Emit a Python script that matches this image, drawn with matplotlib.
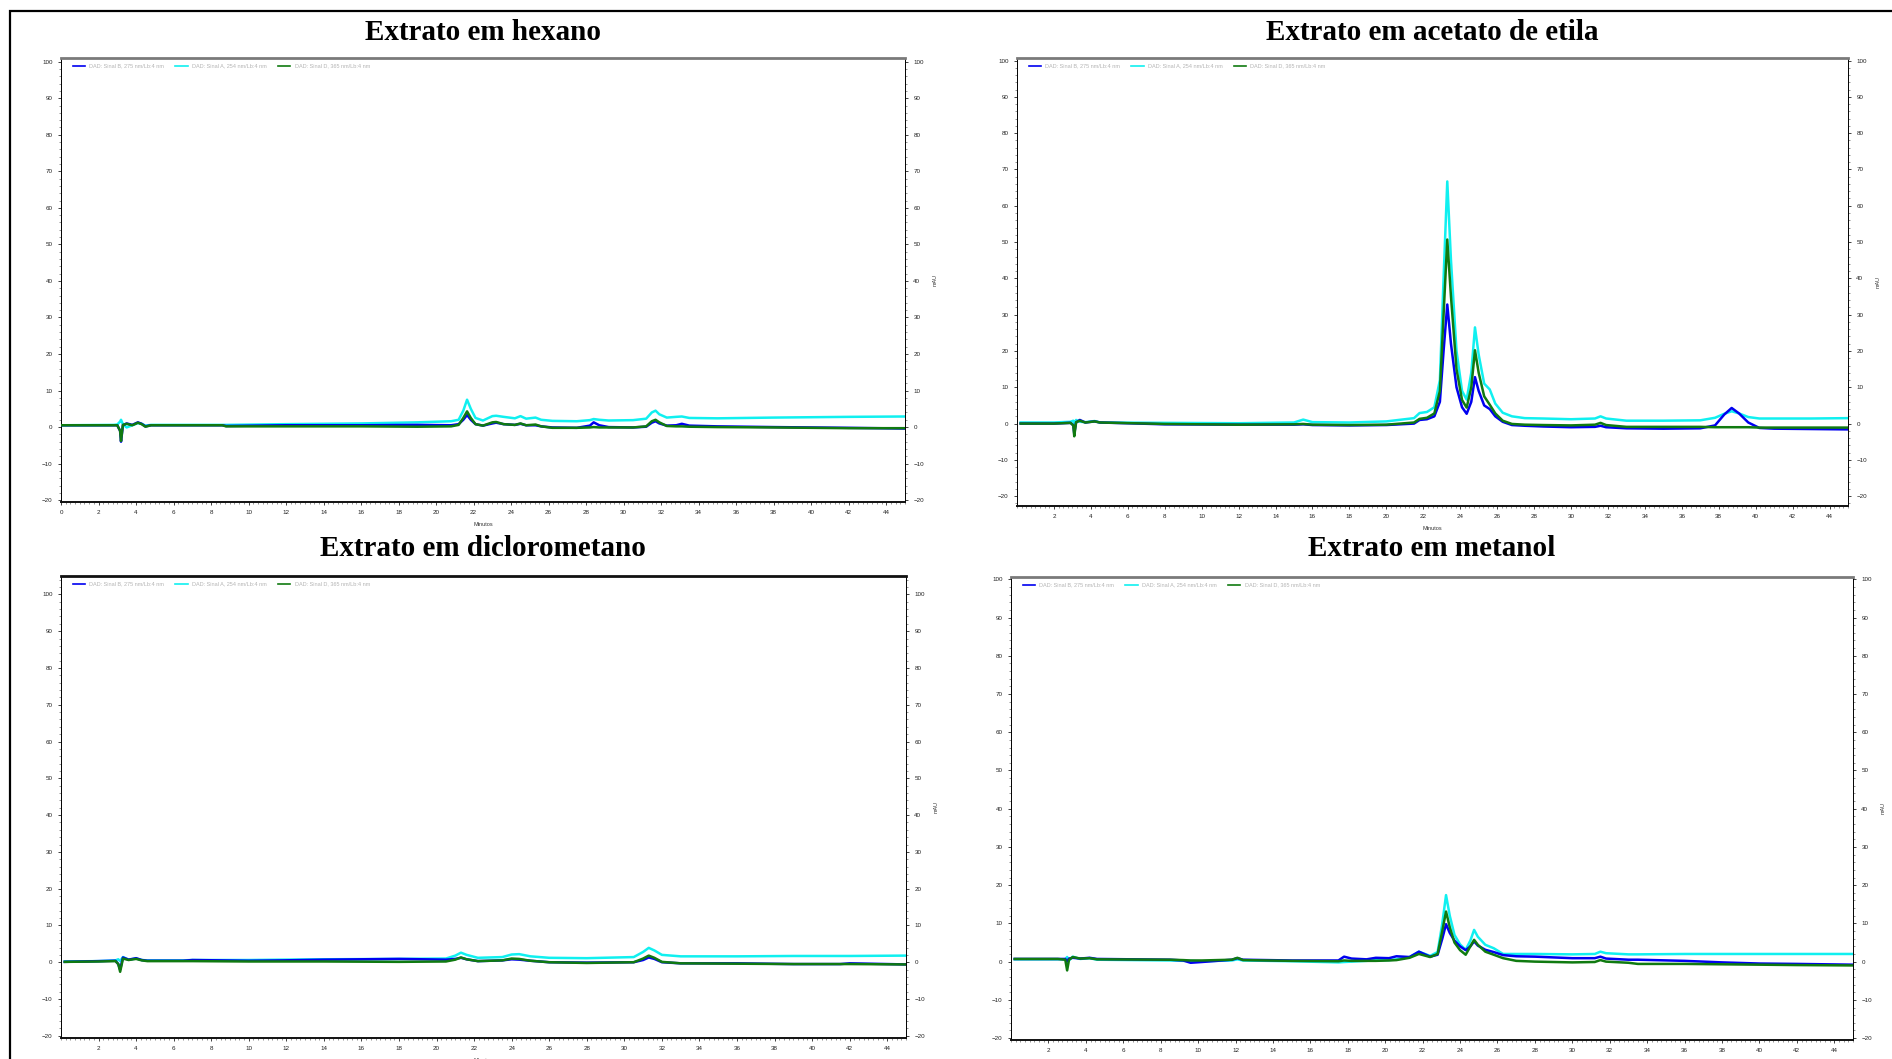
import matplotlib
matplotlib.use("Agg")
import matplotlib.pyplot as plt
from matplotlib.ticker import MultipleLocator, FixedLocator
from matplotlib.patches import Rectangle

# ---------------- data ----------------
titles = ["Extrato em hexano", "Extrato em acetato de etila",
          "Extrato em diclorometano", "Extrato em metanol"]
series_labels = ["DAD: Sinal B, 275 nm/Lb:4 nm",
                 "DAD: Sinal A, 254 nm/Lb:4 nm",
                 "DAD: Sinal D, 365 nm/Lb:4 nm"]
x_label = "Minutos"
y_label = "mAU"
y_ticks = [-20, -10, 0, 10, 20, 30, 40, 50, 60, 70, 80, 90, 100]
x_ticks_first = [0, 2, 4, 6, 8, 10, 12, 14, 16, 18, 20, 22, 24, 26, 28, 30,
                 32, 34, 36, 38, 40, 42, 44]
x_ticks_other = [2, 4, 6, 8, 10, 12, 14, 16, 18, 20, 22, 24, 26, 28, 30,
                 32, 34, 36, 38, 40, 42, 44]

# Extrato em hexano
hex_t = [0, 2.8, 3.0, 3.15, 3.2, 3.3, 3.5, 3.8, 4.1, 4.3, 4.5, 4.8, 8.6, 8.8,
         12, 16, 19, 20.8, 21.2, 21.45, 21.65, 21.85, 22.1, 22.5, 23.0, 23.2,
         23.6, 24.2, 24.5, 24.8, 25.3, 25.6, 26.2, 27.5, 28.2, 28.4, 28.7,
         29.2, 30.5, 31.2, 31.5, 31.7, 31.9, 32.3, 32.8, 33.1, 33.5, 35, 38,
         40, 42, 45]
hex_B = [0.5, 0.5, 0.5, -1.0, -4.0, 0.5, 1.0, 0.6, 1.3, 0.9, 0.2, 0.5, 0.5,
         0.3, 0.5, 0.5, 0.6, 0.5, 0.8, 2.0, 3.3, 2.0, 0.8, 0.4, 1.0, 1.2, 0.8,
         0.6, 0.9, 0.5, 0.5, 0.2, -0.1, -0.2, 0.4, 1.3, 0.5, 0.0, -0.1, 0.1,
         1.2, 1.6, 1.0, 0.4, 0.5, 0.9, 0.4, 0.2, 0.0, -0.1, -0.2, -0.4]
hex_A = [0.5, 0.6, 0.7, 1.5, 2.0, 0.8, -0.1, 0.5, 1.1, 0.9, 0.4, 0.6, 0.6,
         0.6, 0.8, 1.0, 1.3, 1.6, 2.0, 4.5, 7.5, 5.0, 2.5, 1.8, 3.0, 3.1, 2.8,
         2.4, 3.0, 2.3, 2.6, 2.0, 1.7, 1.6, 1.9, 2.2, 2.0, 1.8, 1.9, 2.3, 4.0,
         4.5, 3.5, 2.6, 2.8, 2.9, 2.5, 2.4, 2.6, 2.7, 2.8, 2.9]
hex_D = [0.5, 0.5, 0.5, -1.0, -3.8, 0.6, 0.9, 0.5, 1.2, 0.8, 0.1, 0.5, 0.5,
         0.2, 0.2, 0.2, 0.1, 0.2, 0.6, 2.5, 4.3, 2.5, 0.8, 0.4, 1.3, 1.4, 0.8,
         0.6, 1.0, 0.5, 0.7, 0.2, -0.2, -0.2, -0.1, 0.0, -0.1, -0.1, -0.1,
         0.2, 1.6, 2.0, 1.3, 0.3, 0.2, 0.2, 0.1, 0.0, -0.1, -0.2, -0.3, -0.3]

# Extrato em acetato de etila
ace_t = [0.2, 2.0, 2.9, 3.05, 3.1, 3.2, 3.4, 3.7, 4.2, 4.5, 8, 12, 15.0, 15.5,
         16.0, 18, 20, 21.5, 21.8, 22.2, 22.6, 22.9, 23.1, 23.3, 23.5, 23.8,
         24.1, 24.35, 24.6, 24.8, 25.0, 25.3, 25.6, 25.9, 26.3, 26.8, 27.5,
         28.5, 30, 31.3, 31.6, 31.9, 33, 35, 37, 37.8, 38.3, 38.7, 39.1, 39.6,
         40.2, 41, 43, 45]
ace_B = [0.0, 0.0, 0.2, -0.5, -2.8, 0.3, 1.0, 0.3, 0.6, 0.3, -0.2, -0.3, -0.3,
         -0.2, -0.4, -0.5, -0.4, 0.0, 1.0, 1.2, 2.0, 6.0, 20.0, 32.8, 22.0,
         10.0, 4.5, 2.7, 6.0, 12.8, 9.0, 5.0, 4.0, 2.0, 0.5, -0.4, -0.6, -0.8,
         -1.0, -0.9, -0.6, -1.0, -1.3, -1.4, -1.3, -0.5, 2.5, 4.3, 2.8, 0.3,
         -1.2, -1.4, -1.5, -1.6]
ace_A = [0.3, 0.3, 0.5, 0.8, 0.0, 1.0, 0.5, 0.4, 0.7, 0.3, 0.2, 0.1, 0.3, 1.1,
         0.4, 0.3, 0.6, 1.5, 2.9, 3.2, 4.5, 12.0, 40.0, 66.7, 45.0, 20.0, 9.0,
         6.6, 14.0, 26.5, 19.0, 11.0, 9.4, 5.5, 3.0, 2.0, 1.5, 1.4, 1.2, 1.4,
         2.0, 1.4, 0.8, 0.8, 0.9, 1.6, 2.7, 3.4, 2.8, 1.8, 1.4, 1.4, 1.4, 1.5]
ace_D = [0.0, 0.0, 0.2, -0.5, -3.5, 0.4, 0.8, 0.3, 0.6, 0.3, -0.1, -0.3, -0.2,
         -0.1, -0.3, -0.4, -0.3, 0.3, 1.3, 1.6, 2.8, 9.0, 30.0, 50.7, 35.0,
         15.0, 6.5, 4.4, 10.0, 20.2, 14.0, 7.5, 5.2, 2.8, 0.8, -0.1, -0.3, -0.4,
         -0.5, -0.3, 0.2, -0.4, -0.9, -0.9, -0.9, -1.0, -1.0, -1.0, -1.0, -1.0,
         -1.1, -1.1, -1.1, -1.1]

# Extrato em diclorometano
dcm_t = [0.2, 2.0, 2.9, 3.05, 3.15, 3.3, 3.6, 4.0, 4.3, 4.6, 6.5, 7.0, 10,
         11.8, 14, 18, 20.5, 21.0, 21.3, 21.6, 22.2, 23.5, 24.0, 24.4, 25, 26,
         28, 30.5, 31.0, 31.3, 31.6, 32.0, 33, 36, 39, 41.5, 42, 45]
dcm_B = [0.1, 0.3, 0.4, -0.5, -2.0, 1.3, 0.7, 1.1, 0.6, 0.4, 0.4, 0.6, 0.4,
         0.5, 0.7, 0.9, 0.7, 0.9, 1.2, 0.8, 0.3, 0.5, 0.8, 0.7, 0.4, 0.0, -0.1,
         0.0, 0.6, 1.3, 0.9, 0.0, -0.3, -0.3, -0.5, -0.5, -0.3, -0.6]
dcm_A = [0.2, 0.3, 0.5, 0.8, 0.3, 1.4, 0.7, 1.0, 0.6, 0.5, 0.5, 0.6, 0.6, 0.7,
         0.8, 0.9, 1.0, 1.8, 2.6, 2.0, 1.2, 1.4, 2.1, 2.2, 1.6, 1.2, 1.1, 1.4,
         2.8, 3.9, 3.2, 2.0, 1.6, 1.6, 1.7, 1.7, 1.7, 1.8]
dcm_D = [0.1, 0.2, 0.3, -0.5, -2.6, 1.0, 0.6, 0.9, 0.5, 0.3, 0.3, 0.3, 0.2,
         0.2, 0.2, 0.1, 0.2, 0.7, 1.3, 0.8, 0.3, 0.5, 1.0, 0.9, 0.4, 0.0, -0.2,
         0.0, 1.0, 1.8, 1.2, 0.1, -0.3, -0.4, -0.5, -0.5, -0.5, -0.6]

# Extrato em metanol
met_t = [0.2, 2.5, 2.9, 3.0, 3.1, 3.3, 3.7, 4.2, 4.6, 8.5, 9.2, 9.6, 10.2,
         11.8, 12.1, 12.4, 15, 17.5, 17.8, 18.2, 19.0, 19.5, 20.2, 20.6, 21.3,
         21.8, 22.4, 22.8, 23.05, 23.25, 23.45, 23.7, 24.0, 24.3, 24.55, 24.75,
         24.95, 25.35, 25.8, 26.3, 27, 28, 30, 31.2, 31.5, 31.8, 33, 33.5, 36,
         38, 40, 42, 45]
met_B = [0.7, 0.7, 0.7, 0.0, 0.8, 1.0, 0.8, 1.0, 0.7, 0.5, 0.3, -0.3, -0.1,
         0.5, 0.9, 0.5, 0.3, 0.3, 1.3, 0.8, 0.6, 1.0, 0.9, 1.4, 1.2, 2.6, 1.3,
         1.8, 6.0, 9.8, 7.5, 5.5, 4.0, 3.0, 4.0, 5.3, 4.2, 3.1, 2.5, 1.7, 1.4,
         1.3, 0.9, 0.9, 1.3, 0.8, 0.5, 0.5, 0.2, -0.2, -0.5, -0.6, -0.8]
met_A = [0.6, 0.6, 0.6, 1.2, 0.3, 1.3, 0.7, 0.9, 0.5, 0.3, 0.2, 0.2, 0.1, 0.3,
         0.6, 0.3, 0.1, -0.2, -0.1, 0.0, 0.2, 0.4, 0.4, 0.6, 1.2, 2.6, 1.5,
         2.5, 10.0, 17.4, 12.0, 7.0, 4.5, 3.1, 5.5, 8.3, 6.5, 4.4, 3.5, 2.0,
         2.0, 2.0, 1.9, 2.0, 2.6, 2.2, 1.9, 1.9, 2.0, 2.0, 2.0, 2.0, 2.0]
met_D = [0.7, 0.7, 0.5, -2.3, 0.5, 1.2, 0.8, 0.9, 0.6, 0.5, 0.4, 0.3, 0.3, 0.5,
         1.0, 0.4, 0.2, 0.1, 0.3, 0.2, 0.2, 0.2, 0.3, 0.4, 1.0, 2.0, 1.2, 2.0,
         8.0, 13.1, 9.0, 5.0, 3.0, 1.8, 4.0, 5.7, 4.4, 2.6, 1.8, 0.9, 0.2, 0.0,
         -0.2, -0.1, 0.4, 0.0, -0.3, -0.6, -0.6, -0.7, -0.8, -0.9, -1.0]

# ---------------- style / layout ----------------
W, H = 1892, 1059
fig = plt.figure(figsize=(W / 100, H / 100), dpi=100)
fig.patch.set_facecolor("white")

def px_axes(left, top, right, bottom):
    return [left / W, 1 - bottom / H, (right - left) / W, (bottom - top) / H]

panels = [
    dict(rect=px_axes(61, 58, 905, 502), ylim=(-20.5, 101), t=hex_t,
         B=hex_B, A=hex_A, D=hex_D, xt=x_ticks_first, title_xy=(483, 32),
         topcol="#7a7a7a"),
    dict(rect=px_axes(1017, 58, 1848, 506), ylim=(-22.7, 100.7), t=ace_t,
         B=ace_B, A=ace_A, D=ace_D, xt=x_ticks_other, title_xy=(1432, 32),
         topcol="#7a7a7a"),
    dict(rect=px_axes(61, 576, 906, 1038), ylim=(-20.6, 105), t=dcm_t,
         B=dcm_B, A=dcm_A, D=dcm_D, xt=x_ticks_other, title_xy=(483, 548),
         topcol="#111111"),
    dict(rect=px_axes(1011, 577, 1853, 1040), ylim=(-20.5, 100.6), t=met_t,
         B=met_B, A=met_A, D=met_D, xt=x_ticks_other, title_xy=(1432, 548),
         topcol="#7a7a7a"),
]

col_B = "#0000f0"
col_A = "#10f0f0"
col_D = "#107a10"
tick_font = "Liberation Sans"

for i, p in enumerate(panels):
    ax = fig.add_axes(p["rect"])
    lA, = ax.plot(p["t"], p["A"], color=col_A, lw=1.8, zorder=2)
    lB, = ax.plot(p["t"], p["B"], color=col_B, lw=1.8, zorder=3)
    lD, = ax.plot(p["t"], p["D"], color=col_D, lw=1.8, zorder=4)
    ax.set_xlim(0, 45)
    ax.set_ylim(*p["ylim"])
    ax.xaxis.set_major_locator(FixedLocator(p["xt"]))
    ax.xaxis.set_minor_locator(MultipleLocator(0.25))
    ax.yaxis.set_major_locator(FixedLocator(y_ticks))
    ax.yaxis.set_minor_locator(MultipleLocator(2))
    ax.tick_params(axis="both", which="major", direction="out", length=2,
                   width=0.6, labelsize=4.5, pad=4, colors="#222222")
    ax.tick_params(axis="both", which="minor", direction="out", length=1.2,
                   width=0.4, colors="#444444")
    ax.tick_params(axis="y", left=True, right=True, labelleft=True,
                   labelright=True, which="both")
    for lab in ax.get_xticklabels() + ax.get_yticklabels():
        lab.set_fontfamily(tick_font)
    ax.spines["top"].set_color(p["topcol"])
    ax.spines["top"].set_linewidth(2.0)
    ax.spines["bottom"].set_color("#111111")
    ax.spines["bottom"].set_linewidth(1.4)
    ax.spines["left"].set_linewidth(0.7)
    ax.spines["right"].set_linewidth(0.7)
    ax.set_xlabel(x_label, fontsize=4, family=tick_font, labelpad=5,
                  color="#333333")
    ax.yaxis.set_label_position("right")
    ax.set_ylabel(y_label, fontsize=4, family=tick_font, labelpad=6,
                  color="#333333")
    leg = ax.legend([lB, lA, lD], series_labels, loc="upper left",
                    bbox_to_anchor=(0.01, 0.995), ncol=3, frameon=False,
                    handlelength=2.2, handletextpad=0.8,
                    columnspacing=2.0, borderaxespad=0.2,
                    prop={"family": tick_font, "size": 4})
    for txt in leg.get_texts():
        txt.set_color("#b4b4b4")
    for h in leg.legend_handles:
        h.set_linewidth(1.2)
    tx, ty = p["title_xy"]
    fig.text(tx / W, 1 - ty / H, titles[i], ha="center", va="center",
             fontsize=21, fontweight="bold", family="Liberation Serif",
             color="black")

# outer frame (extends beyond the right/bottom edge)
fig.patches.append(Rectangle((10 / W, -0.2), 1.2, 1 - 11 / H + 0.2,
                             transform=fig.transFigure, fill=False,
                             edgecolor="black", linewidth=1.6, zorder=10))

fig.savefig("out.png", dpi=100, facecolor="white")
